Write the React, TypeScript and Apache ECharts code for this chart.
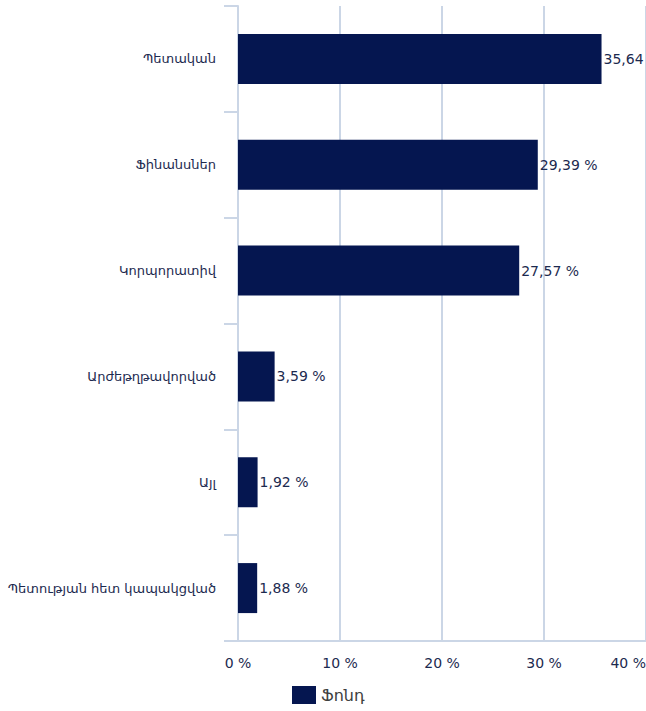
import React, { useEffect, useRef } from "react";
import * as echarts from "echarts";

const categories = [
  "Պետական",
  "Ֆինանսներ",
  "Կորպորատիվ",
  "Արժեթղթավորված",
  "Այլ",
  "Պետության հետ կապակցված",
];
const values = [35.64, 29.39, 27.57, 3.59, 1.92, 1.88];
const seriesName = "Ֆոնդ";
const xTicks = { min: 0, max: 40, interval: 10 };

const fmt = (v: number) => v.toFixed(2).replace(".", ",") + " %";

export default function App() {
  const ref = useRef<HTMLDivElement>(null);
  useEffect(() => {
    const chart = echarts.init(ref.current!, null, { renderer: "svg" });
    const font = "'DejaVu Sans', Verdana, sans-serif";
    chart.setOption({
      animation: false,
      textStyle: { fontFamily: font },
      grid: {
        left: 238,
        right: 0,
        top: 6,
        bottom: 70,
        containLabel: false,
        outerBoundsMode: "none",
      },
      legend: {
        bottom: 2,
        left: 287,
        icon: "rect",
        itemWidth: 24,
        itemHeight: 18,
        itemGap: 6,
        data: [seriesName],
        textStyle: { fontFamily: font, fontSize: 16, color: "#404040" },
      },
      xAxis: {
        type: "value",
        min: xTicks.min,
        max: xTicks.max,
        interval: xTicks.interval,
        axisLine: { show: true, lineStyle: { color: "#cbd6e6", width: 2 } },
        axisTick: { show: false },
        splitLine: { show: true, lineStyle: { color: "#cbd6e6", width: 2 } },
        axisLabel: {
          formatter: (v: number) => v + " %",
          color: "#1c2a4f",
          fontSize: 14,
          fontFamily: font,
          margin: 15,
          alignMaxLabel: "right",
        },
      },
      yAxis: {
        type: "category",
        inverse: true,
        data: categories,
        axisLine: { show: true, lineStyle: { color: "#cbd6e6", width: 2 } },
        axisTick: { show: true, length: 14, lineStyle: { color: "#cbd6e6", width: 2 } },
        axisLabel: { color: "#1c2a4f", fontSize: 13, fontFamily: font, margin: 22 },
      },
      series: [
        {
          name: seriesName,
          type: "bar",
          data: values,
          barWidth: 50,
          itemStyle: { color: "#051650" },
          label: {
            show: true,
            position: "right",
            distance: 2,
            formatter: (p: any) => fmt(p.value),
            color: "#1c2a4f",
            fontSize: 14,
            fontFamily: font,
          },
        },
      ],
    });
    return () => chart.dispose();
  }, []);
  return (
    <div
      ref={ref}
      style={{ position: "absolute", left: 0, top: 0, width: 646, height: 711 }}
    />
  );
}
